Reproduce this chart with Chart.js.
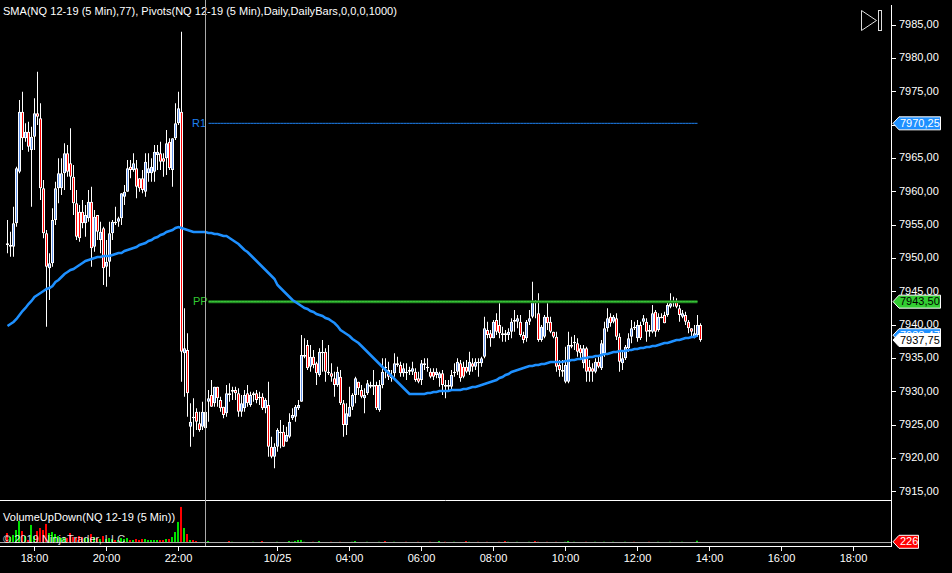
<!DOCTYPE html>
<html>
<head>
<meta charset="utf-8">
<title>NQ 12-19 (5 Min)</title>
<script src="https://cdn.jsdelivr.net/npm/chart.js@4/dist/chart.umd.min.js"></script>
<style>
  html, body { margin: 0; padding: 0; background: #000; overflow: hidden; }
  canvas { display: block; }
</style>
</head>
<body>
<canvas id="chart" width="952" height="573"></canvas>
<script>
// x axis, one slot per 5 min bar
var slotCount = 297;
var firstBar = 2;
var tickBars = [11, 35, 59, 92, 116, 140, 164, 188, 212, 236, 260, 284];
var tickLabels = ["18:00", "20:00", "22:00", "10/25", "04:00", "06:00", "08:00", "10:00", "12:00", "14:00", "16:00", "18:00"];
var priceTicks = [7915, 7920, 7925, 7930, 7935, 7940, 7945, 7950, 7955, 7960, 7965, 7970, 7975, 7980, 7985];

var opens = [
  7952.25,7951.75,7951.75,7955.25,7963,7972,7968,7969,7966.25,7968.25,
  7971.75,7971,7960.5,7953.75,7948.5,7949.25,7955.75,7960.5,7960.5,7962.75,
  7965.75,7964.25,7962.25,7958.25,7957,7957,7955.25,7956,7958.5,7951.75,
  7956.5,7952.75,7954.5,7948.75,7949.5,7953.75,7955.5,7955.5,7956,7959.25,
  7960,7963.75,7963.25,7963.5,7962,7962,7960,7962.75,7962.75,7963,
  7965.5,7965.75,7965,7965,7967.5,7963.25,7968,7970.25,7972,7935.75,
  7936.25,7924.75,7926.25,7927,7925.25,7924.75,7927,7928.5,7929.5,7928.25,
  7930.75,7928.75,7927.75,7926.75,7929.75,7930,7930.25,7929.75,7927,7927.5,
  7929.75,7928,7929.5,7929.75,7929,7929.25,7927.5,7928,7921.75,7920.25,
  7921.75,7924,7924,7922.5,7923.25,7926,7926.25,7927.5,7928.5,7935.25,
  7937,7933.75,7935.25,7934.25,7932.5,7936,7936,7933,7932.75,7932,
  7931,7932.25,7928.25,7925,7926.25,7927.75,7929.5,7931.5,7930.25,7929,
  7929.75,7931,7930.75,7931,7927.25,7931,7933.75,7933.25,7932.25,7932.75,
  7934.25,7934,7932.75,7933,7933,7933,7933,7932,7931.75,7934.25,
  7933.75,7933,7933,7932.5,7932,7932.75,7931,7930.75,7930.75,7932.75,
  7933,7934.25,7933.75,7933.75,7933,7934.25,7933.75,7934.5,7934.25,7935.25,
  7939.25,7938.75,7938,7940.75,7940,7938.75,7938.75,7938.5,7939,7940.5,
  7940.5,7940.5,7938.5,7938,7940.5,7941.25,7943.5,7941.75,7937.75,7938.25,
  7941.25,7940.5,7939,7938.25,7934,7933.25,7931.5,7931.5,7937,7937.25,
  7937.25,7936.5,7934.25,7936.5,7933.75,7933.5,7933,7934.5,7933.5,7935.75,
  7939.5,7941.25,7940.5,7941,7938.25,7934.25,7935,7936.5,7938.25,7939.75,
  7938,7940,7940.5,7940.5,7939.25,7939,7942,7939.25,7941.25,7941.5,
  7941.5,7942.75,7943.5,7943.5,7942.5,7941.25,7941.5,7940.5,7939.5,7938.25,
  7938.5,7940
];
var highs = [
  7955.75,7954,7957.75,7963.75,7973.75,7975,7970.25,7970.5,7969.75,7974,
  7978,7973.25,7961.75,7954.25,7950.75,7957.5,7961.5,7965,7965,7967.25,
  7967,7969.5,7964,7960.25,7958,7958.75,7958,7960.25,7960.75,7957.25,
  7956.5,7955.5,7954.75,7952.75,7955.5,7955.75,7957.75,7956.25,7959.75,7961,
  7964.75,7964.75,7965.75,7964.75,7962,7963.25,7965.75,7965.75,7965,7967,
  7967,7967.5,7965.75,7969.25,7968,7968,7973.25,7975,7984,7942.5,
  7938.75,7928.25,7929,7927.5,7927,7928.5,7927,7930.25,7931.75,7930.75,
  7930.75,7929.25,7927.75,7931,7931.25,7930.75,7930.75,7930.5,7929.5,7930.25,
  7931,7930,7930,7930.25,7930,7929.75,7929,7931.5,7923.25,7922.25,
  7924.5,7925.75,7925,7924.75,7926.75,7927.5,7928,7928.75,7938.5,7938,
  7937.75,7937,7936.25,7934.5,7936.5,7937.75,7936.5,7937,7934.25,7933,
  7933.75,7933.25,7928.75,7928.25,7930.75,7929.75,7932.25,7931.5,7931,7930.5,
  7931.75,7931.5,7933.25,7931.5,7931.75,7935,7935,7934.5,7933.25,7935.75,
  7935.25,7934.5,7934.25,7934.25,7933.75,7934.5,7933.5,7933,7934.75,7935,
  7935,7933.5,7933.5,7933.5,7933,7933.25,7931.75,7931.75,7933.25,7934.25,
  7935,7934.75,7934.5,7934.75,7936,7935,7935,7935,7935.25,7941.25,
  7940.5,7939.25,7940.75,7941.75,7943.25,7939.75,7939.25,7939.5,7941,7942.25,
  7941.5,7941.5,7939,7940.75,7942.25,7946.5,7943.75,7944.75,7940,7941.5,
  7943.25,7941.25,7939,7939,7934.75,7934.75,7936.75,7939,7938.25,7938.5,
  7938,7937,7937,7936.75,7934.75,7934.25,7935,7935.25,7937.75,7940.5,
  7942.5,7941.75,7941.5,7941.75,7938.75,7936,7937,7938.75,7940.75,7940.5,
  7940.75,7940.5,7941.5,7941,7940,7943,7942.25,7941.75,7941.75,7942,
  7943.5,7944.75,7944.25,7944,7943,7942.25,7942,7940.75,7939.5,7940,
  7941.5,7940.25
];
var lows = [
  7950.75,7950.25,7950.25,7954.75,7962.75,7966.25,7967.5,7966,7957.75,7966.25,
  7970,7958.75,7953,7939.75,7943.75,7948.75,7955,7958.25,7959.5,7960.25,
  7962.25,7960.25,7956.5,7952.75,7952.5,7954.5,7953.25,7955.5,7948.75,7951,
  7952.75,7950.75,7946,7945.75,7947.25,7952.75,7955,7954.75,7955,7958,
  7960,7962,7963,7959,7960,7959.75,7959.25,7961.5,7961.5,7961.5,
  7963.25,7963.25,7962.25,7962.5,7963.25,7960.75,7967.75,7970,7931.5,7929.25,
  7926.25,7921.75,7923.25,7924.25,7924,7924.25,7922.5,7925.5,7927.75,7927.75,
  7927.75,7927,7926,7926.25,7928.5,7928.75,7928.75,7926.25,7926.25,7927,
  7927.75,7927.75,7928.5,7928.25,7928,7927.25,7926.75,7920.25,7920,7918.5,
  7921,7921.5,7921.75,7922.5,7923,7925.75,7925.5,7927.25,7928.5,7935,
  7933.25,7933,7933.5,7931,7932.25,7933,7931.5,7932.5,7931.5,7929.25,
  7930.75,7928,7923.25,7923.5,7926.25,7927.25,7928.25,7929.5,7929,7926.75,
  7929.5,7930.5,7929.5,7927.25,7927,7930.5,7932,7931.75,7931.5,7932.25,
  7933.75,7932.25,7932.25,7931.75,7932.5,7932.5,7931.5,7931.25,7931,7933.25,
  7933,7932,7931.75,7932,7930.75,7929.5,7929,7930,7930.25,7932.25,
  7932.5,7931.5,7932,7932.75,7932.5,7933,7933.25,7932.25,7933.75,7935,
  7938,7936.75,7938,7938.5,7938,7937.5,7937.5,7937.75,7938,7939,
  7939.5,7938.25,7937.25,7937.5,7940,7941,7941,7937.5,7937.5,7938,
  7939.25,7938.75,7938,7933,7932.25,7932.25,7931.25,7931.25,7936.5,7936.25,
  7935.25,7935,7933.5,7931.5,7931.5,7931.5,7932.75,7933.5,7933.25,7935.25,
  7939,7939.75,7940.25,7937.75,7933,7933.25,7934.75,7936,7937.25,7939.25,
  7937.5,7937.75,7940,7937.5,7938.25,7938.75,7938.25,7939,7941,7940.25,
  7941.25,7942.5,7942.75,7942.5,7940.5,7941,7940,7938.75,7938.25,7938,
  7938.25,7937.5
];
var closes = [
  7952,7952,7955.25,7963.5,7972,7968,7969,7966.75,7968.25,7971.75,
  7971.25,7960.5,7953.75,7948.75,7949.25,7955.75,7960.5,7962.75,7962.75,7965.75,
  7963,7962.25,7958.25,7953.25,7953,7955.25,7956.5,7958.5,7951.5,7956.25,
  7954,7954,7948.5,7949.5,7953.75,7955.5,7955.25,7956,7959.75,7960,
  7963.5,7963.25,7964.25,7960.75,7960.5,7960.25,7964.5,7963.5,7963.75,7966,
  7966,7964.5,7964.5,7967.25,7963.5,7968,7970.25,7972.5,7936,7936.5,
  7929.75,7925.5,7926,7925.5,7924.25,7927,7924.5,7929,7927.75,7930.75,
  7929,7927.5,7926.5,7929.75,7929.5,7930.25,7929.75,7927,7928.25,7929.5,
  7928.25,7929.5,7929.75,7928.75,7929.25,7927.5,7928.75,7921.75,7920.25,7921.75,
  7924.25,7923.75,7921.75,7923.5,7925.5,7926.5,7927.75,7928,7935.5,7935.5,
  7933.5,7935.25,7934,7932.75,7936,7935.75,7933,7932.75,7932.25,7931,
  7933,7928.25,7925,7926.75,7927.75,7929.5,7932,7930.5,7929.25,7929.5,
  7931.25,7930.75,7931,7927.5,7931,7933,7933.5,7932.25,7932,7934.25,
  7934,7932.75,7933.5,7932.75,7933.25,7933.5,7931.75,7931.5,7934.25,7934,
  7933.5,7932.25,7932.25,7933,7932.75,7931,7930.75,7931,7932.5,7933,
  7934.5,7932,7932.25,7933,7934.5,7933.75,7934.5,7934.25,7935,7939.5,
  7938.5,7938,7940.5,7939,7938.75,7938.5,7938.5,7939,7940.5,7940.75,
  7941,7938.5,7937.75,7940.5,7941,7943.5,7943.25,7937.75,7939.75,7941.25,
  7940.25,7939,7938.25,7933.75,7933.25,7933,7934,7937,7936.75,7937.5,
  7936,7935.75,7936.5,7933,7933,7933,7934.5,7933.75,7937.25,7939.5,
  7941,7940.25,7941.25,7938.25,7934.5,7935,7936.75,7938,7939.5,7939.5,
  7940,7938,7941,7939,7939,7941.75,7939,7941.25,7941,7940.25,
  7943,7943.25,7943.25,7942.75,7941.5,7941.75,7940.5,7939.5,7939,7938.75,
  7940,7937.75
];
var sma = [
  7939.85,7940.15,7940.45,7940.9,7941.5,7942.1,7942.55,7943.15,7943.6,7944.2,
  7944.5,7944.8,7945.1,7945.4,7945.55,7945.85,7946.45,7946.75,7947.2,7947.65,
  7947.95,7948.25,7948.4,7948.7,7949,7949.3,7949.6,7949.75,7949.9,7950.05,
  7950.2,7950.2,7950.35,7950.35,7950.35,7950.5,7950.65,7950.8,7950.8,7951.1,
  7951.25,7951.4,7951.55,7951.7,7952,7952.15,7952.3,7952.6,7952.75,7953.05,
  7953.2,7953.5,7953.65,7953.95,7954.1,7954.25,7954.55,7954.7,7954.55,7954.4,
  7954.25,7954.1,7953.95,7953.95,7953.95,7953.95,7953.95,7953.8,7953.8,7953.65,
  7953.65,7953.5,7953.35,7953.35,7953.05,7952.75,7952.45,7952.15,7951.7,7951.25,
  7950.95,7950.5,7950.05,7949.6,7949.15,7948.7,7948.25,7947.8,7947.35,7946.9,
  7946,7945.55,7945.1,7944.65,7944.2,7943.75,7943.45,7943.15,7942.85,7942.55,
  7942.4,7942.1,7941.95,7941.65,7941.5,7941.35,7941.05,7940.9,7940.6,7940.3,
  7939.85,7939.25,7938.95,7938.65,7938.35,7937.9,7937.6,7937.3,7936.85,7936.4,
  7935.95,7935.5,7935.05,7934.6,7934.15,7933.7,7933.25,7932.8,7932.35,7931.9,
  7931.45,7931,7930.55,7930.1,7929.65,7929.65,7929.65,7929.65,7929.65,7929.65,
  7929.8,7929.8,7929.95,7929.95,7930.1,7930.1,7930.1,7930.1,7930.25,7930.25,
  7930.25,7930.25,7930.4,7930.4,7930.55,7930.7,7930.7,7930.85,7931,7931.15,
  7931.3,7931.45,7931.6,7931.75,7932.05,7932.2,7932.5,7932.65,7932.95,7933.1,
  7933.25,7933.4,7933.55,7933.7,7933.85,7933.85,7934,7934,7934.15,7934.15,
  7934.3,7934.45,7934.45,7934.45,7934.45,7934.45,7934.6,7934.6,7934.75,7934.75,
  7934.9,7934.9,7935.05,7935.05,7935.2,7935.2,7935.35,7935.35,7935.5,7935.65,
  7935.65,7935.8,7935.95,7935.95,7936.1,7936.1,7936.1,7936.25,7936.25,7936.4,
  7936.4,7936.55,7936.55,7936.7,7936.7,7936.85,7936.85,7937,7937.15,7937.3,
  7937.3,7937.45,7937.6,7937.75,7937.75,7937.9,7938.05,7938.05,7938.2,7938.2,
  7938.47,null
];
var volumes = [
  1900,1140,1520,2470,4180,2280,1330,570,3420,1330,
  2280,2850,2470,3610,1900,2090,1710,1330,950,1140,
  950,1900,1140,950,1330,1140,950,950,1710,1140,
  950,760,1330,760,950,760,570,570,950,760,
  950,570,570,760,570,760,760,570,570,570,
  570,570,570,760,760,1140,2090,3990,6840,2850,
  1710,570,570,380,190,190,190,380,190,190,
  190,200,190,190,380,300,190,210,190,190,
  200,190,300,190,190,380,190,200,190,190,
  300,190,190,210,380,300,400,570,600,300,
  200,190,300,190,380,190,200,190,300,190,
  210,300,190,200,190,300,380,190,210,190,
  300,190,200,190,300,190,380,200,190,300,
  190,210,190,300,190,200,190,300,190,210,
  190,300,200,190,380,190,300,210,190,300,
  200,190,210,380,300,190,200,300,190,210,
  300,190,200,190,300,210,380,300,190,200,
  300,190,210,190,300,200,380,300,190,210,
  300,190,200,300,190,210,300,380,200,300,
  190,210,190,300,200,190,300,210,190,300,
  200,190,300,210,190,200,300,190,210,300,
  190,200,190,210,300,190,200,300,190,210,
  190,300,200,190,210,300,190,200,190,210,
  450,226
];

var pivotNames = ["R1", "PP"];
var pivotValues = [7970.25, 7943.5];
var pivotFirstBar = 69;
var pivotLastBar = 232;
var cursorBar = 68;
var headerText = "SMA(NQ 12-19 (5 Min),77), Pivots(NQ 12-19 (5 Min),Daily,DailyBars,0,0,0,1000)";
var volumeText = "VolumeUpDown(NQ 12-19 (5 Min))";
var copyrightText = "\u00a9 2019 NinjaTrader, LLC";

var upColor = "#6495ed";
var downColor = "#ff0000";
var smaColor = "#1e90ff";
var pivotColors = ["#1e80f0", "#2aa02a"];
var font = '11px "Liberation Sans"';

var categories = [];
for (var k = 0; k < slotCount; k++) {
  categories.push("");
}
tickBars.forEach(function (b, n) { categories[b] = tickLabels[n]; });

function padded(list) {
  var out = [];
  for (var k = 0; k < firstBar; k++) out.push(null);
  return out.concat(list);
}
function isDown(i) {
  return closes[i] < opens[i];
}
function pivotData(v) {
  return categories.map(function (c, k) {
    return k >= pivotFirstBar && k <= pivotLastBar ? v : null;
  });
}
function priceText(v) {
  return v.toFixed(2).replace(".", ",");
}

function drawTag(ctx, y, text, fill, textColor, right) {
  ctx.beginPath();
  ctx.moveTo(893, y);
  ctx.lineTo(899, y - 6.5);
  ctx.lineTo(right, y - 6.5);
  ctx.lineTo(right, y + 6.5);
  ctx.lineTo(899, y + 6.5);
  ctx.closePath();
  ctx.fillStyle = fill;
  ctx.fill();
  ctx.strokeStyle = "#fff";
  ctx.lineWidth = 1;
  ctx.stroke();
  ctx.fillStyle = textColor;
  ctx.textAlign = "left";
  ctx.textBaseline = "middle";
  ctx.fillText(text, 900, y + 0.5);
}

var overlay = {
  id: "overlay",
  afterDraw: function (chart) {
    var ctx = chart.ctx;
    var x = chart.scales.x;
    var y = chart.scales.y;
    var vol = chart.scales.vol;
    var area = chart.chartArea;
    var cursorX = x.getPixelForValue(cursorBar);

    ctx.save();
    ctx.lineWidth = 1;
    // volume zero line
    ctx.strokeStyle = "#aaa";
    ctx.beginPath();
    ctx.moveTo(0, Math.floor(vol.getPixelForValue(0)) + 0.5);
    ctx.lineTo(area.right, Math.floor(vol.getPixelForValue(0)) + 0.5);
    ctx.stroke();
    // panel separator
    ctx.strokeStyle = "#fff";
    ctx.beginPath();
    ctx.moveTo(0, 500.5);
    ctx.lineTo(area.right, 500.5);
    ctx.stroke();

    ctx.font = font;
    ctx.textBaseline = "middle";
    ctx.textAlign = "left";
    ctx.fillStyle = "#fff";
    ctx.letterSpacing = "0.03px";
    ctx.fillText(headerText, 3, 12);
    ctx.fillText(volumeText, 3, 518);
    ctx.fillStyle = "rgba(255,255,255,0.85)";
    ctx.fillText(copyrightText, 3, 540);
    ctx.letterSpacing = "0px";

    // pivot names left of their lines
    pivotNames.forEach(function (name, n) {
      ctx.fillStyle = n === 0 ? "#1e80f0" : "#32c832";
      ctx.fillText(name, n === 0 ? 192 : 193, y.getPixelForValue(pivotValues[n]) + 0.5);
    });

    // cross hair
    ctx.strokeStyle = "#aaa";
    ctx.beginPath();
    ctx.moveTo(cursorX, 0);
    ctx.lineTo(cursorX, area.bottom);
    ctx.stroke();

    // jump to last bar button
    ctx.strokeStyle = "#ddd";
    ctx.beginPath();
    ctx.moveTo(861.5, 10.5);
    ctx.lineTo(876.5, 20.5);
    ctx.lineTo(861.5, 30.5);
    ctx.closePath();
    ctx.stroke();
    ctx.strokeRect(878.5, 10.5, 3, 20);

    // last value tags on the axis
    drawTag(ctx, y.getPixelForValue(pivotValues[0]), priceText(pivotValues[0]), "#1e90ff", "#fff", 940.5);
    drawTag(ctx, y.getPixelForValue(pivotValues[1]), priceText(pivotValues[1]), "#32cd32", "#000", 940.5);
    drawTag(ctx, y.getPixelForValue(sma[sma.length - 2]), priceText(sma[sma.length - 2]), "#1e90ff", "#fff", 940.5);
    drawTag(ctx, y.getPixelForValue(closes[closes.length - 1]), priceText(closes[closes.length - 1]), "#fff", "#000", 940.5);
    drawTag(ctx, vol.getPixelForValue(volumes[volumes.length - 1]), String(volumes[volumes.length - 1]), "#ff0000", "#fff", 918.5);
    ctx.restore();
  }
};

var canvas = document.getElementById("chart");
var context = canvas.getContext("2d", { alpha: false });

var chart = new Chart(context, {
  type: "bar",
  plugins: [overlay],
  data: {
    labels: categories,
    datasets: [
      {
        type: "line",
        label: "SMA",
        data: padded(sma),
        borderColor: smaColor,
        borderWidth: 2.5,
        pointRadius: 0,
        tension: 0,
        yAxisID: "y",
        order: 0
      },
      {
        type: "line",
        label: "R1",
        data: pivotData(pivotValues[0]),
        borderColor: pivotColors[0],
        borderWidth: 1,
        pointRadius: 0,
        yAxisID: "y",
        order: 1
      },
      {
        type: "line",
        label: "PP center",
        data: pivotData(pivotValues[1]),
        borderColor: "#3ed03e",
        borderWidth: 1,
        pointRadius: 0,
        yAxisID: "y",
        order: 1
      },
      {
        type: "line",
        label: "PP",
        data: pivotData(pivotValues[1]),
        borderColor: "#1f7f1f",
        borderWidth: 3,
        pointRadius: 0,
        yAxisID: "y",
        order: 1.5
      },
      {
        label: "Body",
        data: padded(opens.map(function (o, i) { return [o, closes[i]]; })),
        backgroundColor: padded(opens.map(function (o, i) { return isDown(i) ? downColor : upColor; })),
        borderColor: "#fff",
        borderWidth: 1,
        borderSkipped: false,
        barThickness: 3,
        grouped: false,
        inflateAmount: 0,
        yAxisID: "y",
        order: 2
      },
      {
        label: "Wick",
        data: padded(highs.map(function (h, i) { return [lows[i], h]; })),
        backgroundColor: "#fff",
        borderWidth: 0,
        barThickness: 1,
        grouped: false,
        inflateAmount: 0,
        yAxisID: "y",
        order: 3
      },
      {
        label: "Volume",
        data: padded(volumes),
        backgroundColor: padded(volumes.map(function (v, i) { return isDown(i) ? "#ff0000" : "#00e000"; })),
        borderColor: "#000",
        borderWidth: { right: 1, left: 0, top: 0, bottom: 0 },
        barThickness: 3,
        grouped: false,
        inflateAmount: 0,
        yAxisID: "vol",
        order: 4
      }
    ]
  },
  options: {
    responsive: false,
    animation: false,
    events: [],
    layout: { padding: { top: 5, left: 0, right: 0, bottom: 0 } },
    plugins: {
      legend: { display: false },
      tooltip: { enabled: false },
      title: { display: false }
    },
    scales: {
      x: {
        offset: true,
        grid: { drawOnChartArea: false, offset: false, tickLength: 5, tickColor: "#fff" },
        border: { color: "#fff" },
        ticks: {
          color: "#fff",
          font: { family: "Liberation Sans", size: 11 },
          autoSkip: false,
          maxRotation: 0,
          padding: 1
        },
        afterBuildTicks: function (scale) {
          scale.ticks = scale.ticks.filter(function (t) { return categories[t.value]; });
        },
        afterFit: function (scale) {
          scale.height = 27;
          scale.paddingLeft = 0;
          scale.paddingRight = 0;
        }
      },
      y: {
        position: "right",
        min: 7906.85,
        max: 7988,
        grid: { drawOnChartArea: false, tickLength: 5, tickColor: "#fff" },
        border: { color: "#fff" },
        ticks: {
          color: "#fff",
          font: { family: "Liberation Sans", size: 11 },
          autoSkip: false,
          padding: 3,
          callback: function (v) { return priceText(v); }
        },
        afterBuildTicks: function (scale) {
          scale.ticks = priceTicks.map(function (v) { return { value: v }; });
        },
        afterFit: function (scale) {
          scale.width = 61;
          scale.paddingTop = 0;
          scale.paddingBottom = 0;
        }
      },
      vol: {
        display: false,
        min: -566,
        max: 101434
      }
    }
  }
});
</script>
</body>
</html>
